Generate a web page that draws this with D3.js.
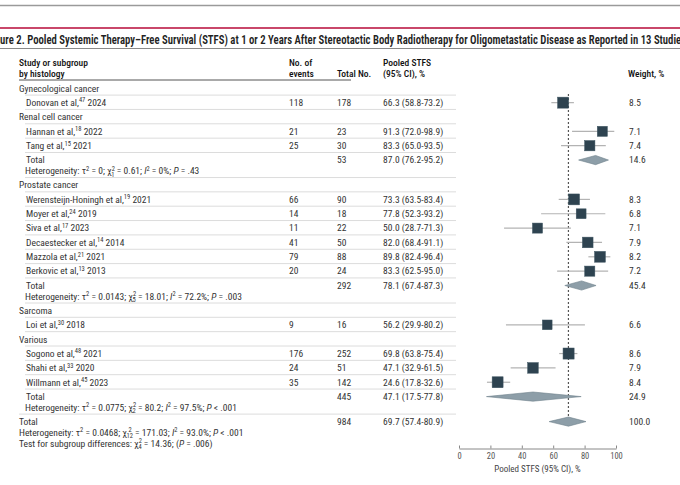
<!DOCTYPE html>
<head>
<meta charset="utf-8">
<script src="https://cdn.jsdelivr.net/npm/d3@7"></script>
<style>
body { margin: 0; background: #fff; }
text { font-family: "Liberation Sans Narrow", "Roboto Condensed", Roboto, sans-serif; }
</style>
</head>
<body>
<script>
// data
var groups = ["Gynecological cancer", "Renal cell cancer", "Prostate cancer", "Sarcoma", "Various"];
var studyNames = ["Donovan et al,", "Hannan et al,", "Tang et al,", "Werensteijn-Honingh et al,", "Moyer et al,",
  "Siva et al,", "Decaestecker et al,", "Mazzola et al,", "Berkovic et al,", "Loi et al,",
  "Sogono et al,", "Shahi et al,", "Willmann et al,"];
var studyRefs = ["47", "18", "15", "19", "24", "17", "14", "21", "13", "30", "48", "33", "45"];
var studyYears = ["2024", "2022", "2021", "2021", "2019", "2023", "2014", "2021", "2013", "2018", "2021", "2020", "2023"];
var studyGroup = [0, 1, 1, 2, 2, 2, 2, 2, 2, 3, 4, 4, 4];
var events = [118, 21, 25, 66, 14, 11, 41, 79, 20, 9, 176, 24, 35];
var totals = [178, 23, 30, 90, 18, 22, 50, 88, 24, 16, 252, 51, 142];
var est = [66.3, 91.3, 83.3, 73.3, 77.8, 50.0, 82.0, 89.8, 83.3, 56.2, 69.8, 47.1, 24.6];
var lo = [58.8, 72.0, 65.0, 63.5, 52.3, 28.7, 68.4, 82.4, 62.5, 29.9, 63.8, 32.9, 17.8];
var hi = [73.2, 98.9, 93.5, 83.4, 93.2, 71.3, 91.1, 96.4, 95.0, 80.2, 75.4, 61.5, 32.6];
var weights = [8.5, 7.1, 7.4, 8.3, 6.8, 7.1, 7.9, 8.2, 7.2, 6.6, 8.6, 7.9, 8.4];

// subgroup pooled estimates (only groups with more than one study)
var subGroup = [1, 2, 4];
var subN = [53, 292, 445];
var subEst = [87.0, 78.1, 47.1];
var subLo = [76.2, 67.4, 17.5];
var subHi = [95.2, 87.3, 77.8];
var subWeight = [14.6, 45.4, 24.9];
var subTau = ["0", "0.0143", "0.0775"];
var subDf = ["1", "5", "2"];
var subChi = ["0.61", "18.01", "80.2"];
var subI2 = ["0%", "72.2%", "97.5%"];
var subP = ["= .43", "= .003", "< .001"];

// overall
var allN = 984, allEst = 69.7, allLo = 57.4, allHi = 80.9, allWeight = 100.0;
var allTau = "0.0468", allDf = "12", allChi = "171.03", allI2 = "93.0%", allP = "< .001";
var testDf = "4", testChi = "14.36", testP = "= .006";

var xTicks = [0, 20, 40, 60, 80, 100];

var width = 680, height = 485;
var fs = 9.5, fsSup = 6.5;
var ink = "#333";

var svg = d3.select("body").append("svg")
  .attr("width", width)
  .attr("height", height)
  .attr("xmlns", "http://www.w3.org/2000/svg");

var x = d3.scaleLinear().domain([0, 100]).range([459, 616]);
var side = d3.scaleSqrt().domain([0, 10]).range([0, 11.95]);

// top rules + title (title runs past both edges, as in the source crop)
svg.append("line").attr("x1", 0).attr("x2", width).attr("y1", 5.5).attr("y2", 5.5)
  .attr("stroke", "#9a9a9a").attr("stroke-width", 1.5);
svg.append("line").attr("x1", 0).attr("x2", width).attr("y1", 28).attr("y2", 28)
  .attr("stroke", "#c9476a").attr("stroke-width", 2);
svg.append("text").attr("x", -13).attr("y", 44)
  .attr("font-size", 12.5).attr("font-weight", 600).attr("fill", "#222")
  .attr("textLength", 699).attr("lengthAdjust", "spacingAndGlyphs")
  .text("Figure 2. Pooled Systemic Therapy–Free Survival (STFS) at 1 or 2 Years After Stereotactic Body Radiotherapy for Oligometastatic Disease as Reported in 13 Studies");
svg.append("line").attr("x1", 0).attr("x2", width).attr("y1", 48.5).attr("y2", 48.5)
  .attr("stroke", "#8a8a8a").attr("stroke-width", 1);

// column headers
var cols = {name: 19, ev: 289, tot: 337, ci: 383, w: 628};
function head(xp, yp, t) {
  svg.append("text").attr("x", xp).attr("y", yp).attr("dy", "0.35em")
    .attr("font-size", fs).attr("font-weight", 500).attr("fill", "#111").text(t);
}
head(cols.name, 62.7, "Study or subgroup");
head(cols.name, 73.5, "by histology");
head(cols.ev, 62.7, "No. of");
head(cols.ev, 73.5, "events");
head(cols.tot, 73.5, "Total No.");
head(cols.ci, 62.7, "Pooled STFS");
head(cols.ci, 73.5, "(95% CI), %");
head(cols.w, 73.5, "Weight, %");
svg.append("line").attr("x1", 19).attr("x2", 351).attr("y1", 80).attr("y2", 80)
  .attr("stroke", "#555").attr("stroke-width", 1);

// build the rows
var step = 14.35;
var rows = [], seps = [];
var y = 88.3;
groups.forEach(function(g, gi) {
  rows.push({type: "group", label: g, y: y});
  seps.push({y: y + 6.8, x1: 25});
  y += step;
  studyGroup.forEach(function(sg, i) {
    if (sg != gi) return;
    rows.push({type: "study", i: i, y: y});
    seps.push({y: y + 6.8, x1: 25});
    y += step;
  });
  var k = subGroup.indexOf(gi);
  if (k >= 0) {
    rows.push({type: "total", n: subN[k], est: subEst[k], lo: subLo[k], hi: subHi[k], w: subWeight[k], y: y});
    rows.push({type: "het", y: y + 11, tau: subTau[k], df: subDf[k], chi: subChi[k], i2: subI2[k], p: subP[k], x: 25});
    seps.push({y: y + 17.5, x1: gi == groups.length - 1 ? 19 : 25});
    y += 25;
  }
});
seps.pop();
seps.push({y: y - 7.5, x1: 19});
rows.push({type: "overall", n: allN, est: allEst, lo: allLo, hi: allHi, w: allWeight, y: y});
rows.push({type: "het", y: y + 11, tau: allTau, df: allDf, chi: allChi, i2: allI2, p: allP, x: 19});
rows.push({type: "test", y: y + 22});

// separators
svg.append("g").selectAll("line").data(seps).enter().append("line")
  .attr("x1", function(d) {return d.x1;}).attr("x2", 456)
  .attr("y1", function(d) {return d.y;}).attr("y2", function(d) {return d.y;})
  .attr("stroke", "#dcdcdc").attr("stroke-width", 1);

function txt(xp, yp, t) {
  return svg.append("text").attr("x", xp).attr("y", yp).attr("dy", "0.35em")
    .attr("font-size", fs).attr("fill", ink).text(t);
}
function fmtCI(e, l, h) {
  return e.toFixed(1) + " (" + l.toFixed(1) + "-" + h.toFixed(1) + ")";
}
// rich text: plain strings, {i: ..} italic, {sup: ..}, {chi: df} stacked 2 over df
function rich(xp, yp, parts) {
  var t = svg.append("text").attr("x", xp).attr("y", yp).attr("dy", "0.35em")
    .attr("font-size", fs).attr("fill", ink);
  var shift = 0;  // current baseline offset, undone by the next normal piece
  parts.forEach(function(p) {
    if (typeof p == "string" || p.i) {
      var s = t.append("tspan").text(typeof p == "string" ? p : p.i);
      if (p.i) s.attr("font-style", "italic");
      if (shift) { s.attr("dy", -shift); shift = 0; }
    } else if (p.sup) {
      t.append("tspan").attr("font-size", fsSup).attr("dy", -3.5 - shift).text(p.sup);
      shift = -3.5;
    } else if (p.chi) {
      var wide = p.chi.length > 1;
      t.append("tspan").attr("font-size", fsSup).attr("dy", -3.5 - shift).attr("dx", wide ? 1.5 : 0).text("2");
      t.append("tspan").attr("font-size", fsSup).attr("dy", 6).attr("dx", wide ? -5.2 : -3.6).text(p.chi);
      shift = 2.5;
    }
  });
  return t;
}
function hetParts(r) {
  return ["Heterogeneity: \u03c4", {sup: "2"}, " = " + r.tau + "; \u03c7", {chi: r.df}, " = " + r.chi + "; ",
    {i: "I"}, {sup: "2"}, " = " + r.i2 + "; ", {i: "P"}, " " + r.p];
}

rows.forEach(function(r) {
  if (r.type == "group") {
    txt(19, r.y, r.label);
  } else if (r.type == "study") {
    var i = r.i;
    rich(26, r.y, [studyNames[i], {sup: studyRefs[i]}, " " + studyYears[i]]);
    txt(cols.ev, r.y, events[i]);
    txt(cols.tot, r.y, totals[i]);
    txt(cols.ci, r.y, fmtCI(est[i], lo[i], hi[i]));
    txt(cols.w + 1, r.y, weights[i].toFixed(1));
  } else if (r.type == "total" || r.type == "overall") {
    txt(r.type == "total" ? 26 : 19, r.y, "Total");
    txt(cols.tot, r.y, r.n);
    txt(cols.ci, r.y, fmtCI(r.est, r.lo, r.hi));
    txt(cols.w + 1, r.y, r.w.toFixed(1));
  } else if (r.type == "het") {
    rich(r.x, r.y, hetParts(r));
  } else if (r.type == "test") {
    rich(19, r.y, ["Test for subgroup differences: \u03c7", {chi: testDf}, " = " + testChi + "; (", {i: "P"}, " " + testP + ")"]);
  }
});

// reference line at overall estimate
var overallRow = rows.filter(function(r) {return r.type == "overall";})[0];
svg.append("line")
  .attr("x1", x(allEst)).attr("x2", x(allEst))
  .attr("y1", 94).attr("y2", overallRow.y - 4.5)
  .attr("stroke", "#555").attr("stroke-width", 1.2).attr("stroke-dasharray", "2,2");

// study CIs and squares
var studyRows = rows.filter(function(r) {return r.type == "study";});
svg.append("g").selectAll("line").data(studyRows).enter().append("line")
  .attr("x1", function(d) {return x(lo[d.i]);})
  .attr("x2", function(d) {return x(hi[d.i]);})
  .attr("y1", function(d) {return d.y;}).attr("y2", function(d) {return d.y;})
  .attr("stroke", "#b3b3b3").attr("stroke-width", 1.2);
svg.append("g").selectAll("rect").data(studyRows).enter().append("rect")
  .attr("x", function(d) {return x(est[d.i]) - side(weights[d.i]) / 2;})
  .attr("y", function(d) {return d.y - side(weights[d.i]) / 2;})
  .attr("width", function(d) {return side(weights[d.i]);})
  .attr("height", function(d) {return side(weights[d.i]);})
  .attr("fill", "#2e4350").attr("stroke", "#3d5461").attr("stroke-width", 0.5);

// pooled diamonds
var pooled = rows.filter(function(r) {return r.type == "total" || r.type == "overall";});
svg.append("g").selectAll("polygon").data(pooled).enter().append("polygon")
  .attr("points", function(d) {
    return [[x(d.lo), d.y], [x(d.est), d.y - 4.6], [x(d.hi), d.y], [x(d.est), d.y + 4.6]].join(" ");
  })
  .attr("fill", "#8d9ea8").attr("stroke", "#6f818b").attr("stroke-width", 0.6);

// axis
var axis = svg.append("g").attr("transform", "translate(0,448.5)")
  .call(d3.axisBottom(x).tickValues(xTicks).tickSizeInner(-3).tickSizeOuter(0).tickPadding(4));
axis.select(".domain").attr("stroke", "#888");
axis.selectAll(".tick line").attr("stroke", "#888");
axis.selectAll(".tick text").attr("font-size", 8.5).attr("fill", "#555")
  .style("font-family", "\"Liberation Sans Narrow\", \"Roboto Condensed\", Roboto, sans-serif");
svg.append("text").attr("x", (x(0) + x(100)) / 2).attr("y", 469).attr("dy", "0.35em")
  .attr("text-anchor", "middle").attr("font-size", 9).attr("fill", "#444")
  .text("Pooled STFS (95% CI), %");
</script>
</body>
